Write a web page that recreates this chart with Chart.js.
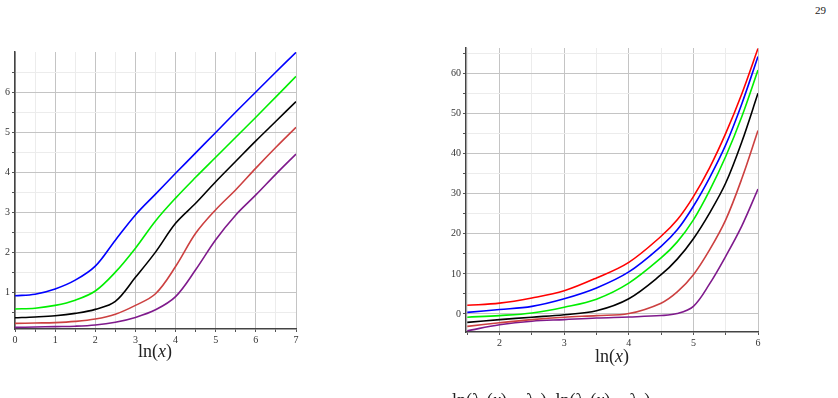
<!DOCTYPE html>
<html>
<head>
<meta charset="utf-8">
<script src="https://cdn.jsdelivr.net/npm/chart.js@4"></script>
<style>
  body { margin: 0; background: #fff; width: 838px; height: 398px; overflow: hidden; position: relative; font-family: "Liberation Serif", "DejaVu Serif", serif; }
  .cv { position: absolute; }
  .lbl { position: absolute; font-size: 18px; color: #222; white-space: nowrap; transform: translate(-50%, -50%); }
</style>
</head>
<body>
<div class="cv" style="left:0px; top:40px; width:310px; height:303px;"><canvas id="izq"></canvas></div>
<div class="cv" style="left:440px; top:30px; width:330px; height:318px;"><canvas id="der"></canvas></div>
<div class="lbl" style="left:155px; top:351px;">ln(<i>x</i>)</div>
<div class="lbl" style="left:612px; top:356px;">ln(<i>x</i>)</div>
<div style="position:absolute; left:815px; top:4px; font-size:11px; color:#222;">29</div>
<div style="position:absolute; left:452px; top:390px; font-size:18px; color:#222; white-space:nowrap;">ln(λ<sub style="font-size:12px">1</sub>(<i>x</i>) − λ<sub style="font-size:12px">2</sub>), ln(λ<sub style="font-size:12px">1</sub>(<i>x</i>) − λ<sub style="font-size:12px">3</sub>)</div>
<script>
// grafico izquierdo
const xIzq = [0, 0.5, 1, 1.5, 2, 2.5, 3, 3.5, 4, 4.5, 5, 5.5, 6, 6.5, 7]
const azulIzq = [0.91, 0.95, 1.08, 1.3, 1.65, 2.3, 2.93, 3.45, 3.97, 4.48, 4.99, 5.5, 6.0, 6.5, 6.99]
const verdeIzq = [0.58, 0.6, 0.67, 0.8, 1.03, 1.5, 2.1, 2.78, 3.35, 3.87, 4.37, 4.87, 5.37, 5.88, 6.39]
const negroIzq = [0.36, 0.38, 0.41, 0.47, 0.57, 0.77, 1.37, 2.0, 2.72, 3.22, 3.76, 4.27, 4.78, 5.27, 5.76]
const rojoIzq = [0.22, 0.23, 0.24, 0.27, 0.33, 0.45, 0.67, 0.96, 1.64, 2.47, 3.06, 3.56, 4.1, 4.62, 5.12]
const moradoIzq = [0.12, 0.13, 0.14, 0.15, 0.18, 0.25, 0.37, 0.56, 0.89, 1.56, 2.31, 2.93, 3.43, 3.95, 4.45]
const ticksXIzq = [0, 0.5, 1, 1.5, 2, 2.5, 3, 3.5, 4, 4.5, 5, 5.5, 6, 6.5, 7]
const ticksYIzq = [0.5, 1, 1.5, 2, 2.5, 3, 3.5, 4, 4.5, 5, 5.5, 6, 6.5]

// grafico derecho
const xDer = [1.5, 2, 2.5, 3, 3.5, 4, 4.5, 4.75, 5, 5.25, 5.5, 5.75, 6]
const rojoDer = [2.16, 2.7, 4.0, 5.8, 9.0, 12.9, 19.4, 23.5, 29.3, 36.5, 45.1, 55.0, 66.3]
const azulDer = [0.4, 1.1, 1.9, 3.8, 6.5, 10.5, 16.9, 21.0, 26.9, 34.0, 42.2, 52.5, 64.3]
const verdeDer = [-0.8, -0.4, 0.25, 1.7, 3.7, 7.7, 14.0, 18.0, 23.5, 30.8, 39.3, 49.3, 60.9]
const negroDer = [-2.1, -1.4, -0.8, -0.2, 0.8, 3.8, 9.8, 13.7, 18.8, 25.2, 32.7, 43.0, 55.1]
const marronDer = [-3.1, -2.2, -1.4, -0.8, -0.4, 0.1, 2.7, 5.5, 9.8, 16.0, 23.5, 33.8, 45.8]
const moradoDer = [-4.2, -2.7, -1.8, -1.4, -1.0, -0.75, -0.4, 0.1, 1.9, 7.5, 14.4, 22.0, 31.2]
const ticksXDer = [1.5, 2, 2.5, 3, 3.5, 4, 4.5, 5, 5.5, 6]
const ticksYDer = [0, 5, 10, 15, 20, 25, 30, 35, 40, 45, 50, 55, 60, 65]

const AZUL = '#0000ff', VERDE = '#00ee00', NEGRO = '#000000', ROJO = '#ff0000', MARRON = '#cc4040', MORADO = '#7f1a8c'

function serie(xs, ys, color) {
  return {
    data: xs.map((x, i) => ({ x: x, y: ys[i] })),
    borderColor: color,
    borderWidth: 1.6,
    pointRadius: 0,
    fill: false,
    tension: 0.35
  }
}

function eje(min, max, valores, paso, ancho, alto) {
  return {
    type: 'linear',
    min: min,
    max: max,
    afterBuildTicks: (axis) => { axis.ticks = valores.map(v => ({ value: v })) },
    afterFit: (scale) => {
      if (ancho) scale.width = ancho
      if (alto) scale.height = alto
    },
    border: { display: true, color: '#444', width: 1.5 },
    grid: {
      color: (ctx) => (ctx.tick && Math.abs(ctx.tick.value / paso - Math.round(ctx.tick.value / paso)) < 1e-6) ? '#c4c4c4' : '#ececec',
      lineWidth: 1,
      tickLength: 3,
      tickColor: '#555'
    },
    ticks: {
      padding: 2,
      color: '#333',
      font: { family: 'Liberation Serif', size: 10 },
      autoSkip: false,
      maxRotation: 0,
      callback: (v) => (Math.abs(v / paso - Math.round(v / paso)) < 1e-6) ? String(v) : ''
    }
  }
}

function grafico(id, conjuntos, escalaX, escalaY, padding) {
  new Chart(document.getElementById(id), {
    type: 'line',
    data: { datasets: conjuntos },
    options: {
      responsive: true,
      maintainAspectRatio: false,
      animation: false,
      layout: { padding: padding },
      plugins: { legend: { display: false }, tooltip: { enabled: false } },
      scales: { x: escalaX, y: escalaY }
    }
  })
}

window.onload = function () {
  grafico('izq', [
    serie(xIzq, azulIzq, AZUL),
    serie(xIzq, verdeIzq, VERDE),
    serie(xIzq, negroIzq, NEGRO),
    serie(xIzq, rojoIzq, MARRON),
    serie(xIzq, moradoIzq, MORADO)
  ], eje(0, 7, ticksXIzq, 1, 0, 14), eje(0.08, 7, ticksYIzq, 1, 15, 0), { top: 12, right: 14, left: 0, bottom: 0 })

  grafico('der', [
    serie(xDer, rojoDer, ROJO),
    serie(xDer, azulDer, AZUL),
    serie(xDer, verdeDer, VERDE),
    serie(xDer, negroDer, NEGRO),
    serie(xDer, marronDer, MARRON),
    serie(xDer, moradoDer, MORADO)
  ], eje(1.48, 6, ticksXDer, 1, 0, 16), eje(-4.5, 66.4, ticksYDer, 10, 26, 0), { top: 18, right: 12, left: 0, bottom: 0 })
}
</script>
</body>
</html>
